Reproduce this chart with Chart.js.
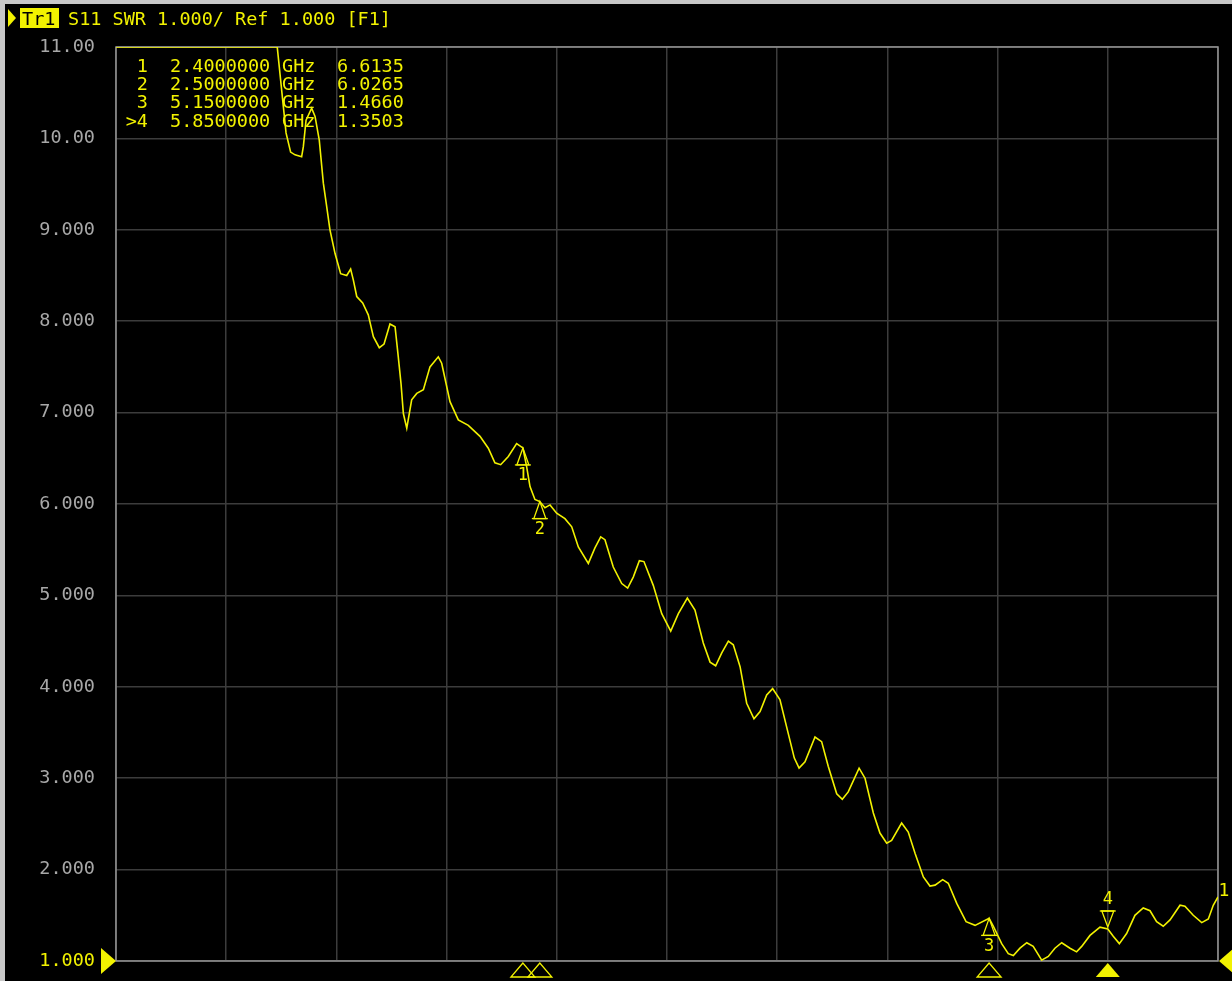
<!DOCTYPE html>
<html>
<head>
<meta charset="utf-8">
<title>S11 SWR</title>
<script src="https://cdn.jsdelivr.net/npm/chart.js@4/dist/chart.umd.min.js"></script>
<style>
  html, body { margin: 0; padding: 0; background: #000; }
  #swrChart { display: block; }
</style>
</head>
<body>
<canvas id="swrChart" width="1232" height="981"></canvas>
<script>
// =================== DADOS (lidos da tela do VNA) ===================
// frequência em GHz; os primeiros pontos estão fora da escala (> 11) e aparecem presos no topo
const freqGHz = [
  0, 0.3, 0.6, 0.951, 0.987, 1.003, 1.030, 1.056, 1.095, 1.105,
  1.121, 1.154, 1.174, 1.199, 1.223, 1.243, 1.262, 1.292, 1.325, 1.361,
  1.384, 1.400, 1.420, 1.455, 1.488, 1.518, 1.553, 1.581, 1.616, 1.646,
  1.665, 1.681, 1.695, 1.715, 1.744, 1.774, 1.813, 1.852, 1.901, 1.921,
  1.970, 2.019, 2.078, 2.147, 2.196, 2.235, 2.269, 2.314, 2.363, 2.400,
  2.422, 2.442, 2.471, 2.500, 2.530, 2.560, 2.599, 2.648, 2.688, 2.727,
  2.786, 2.825, 2.859, 2.884, 2.933, 2.983, 3.018, 3.051, 3.087, 3.114,
  3.169, 3.219, 3.272, 3.317, 3.370, 3.415, 3.464, 3.504, 3.537, 3.573,
  3.612, 3.641, 3.681, 3.720, 3.763, 3.799, 3.838, 3.873, 3.916, 3.965,
  4.001, 4.029, 4.064, 4.123, 4.162, 4.201, 4.251, 4.284, 4.319, 4.383,
  4.418, 4.467, 4.506, 4.546, 4.575, 4.634, 4.673, 4.713, 4.762, 4.801,
  4.831, 4.876, 4.909, 4.959, 5.014, 5.067, 5.150, 5.175, 5.224, 5.263,
  5.293, 5.332, 5.372, 5.410, 5.460, 5.499, 5.538, 5.578, 5.627, 5.666,
  5.696, 5.745, 5.804, 5.850, 5.882, 5.918, 5.961, 6.010, 6.059, 6.099,
  6.138, 6.177, 6.217, 6.276, 6.305, 6.354, 6.404, 6.443, 6.472, 6.500
];

const swr = [
  11, 11, 11, 11.00, 10.35, 10.06, 9.85, 9.82, 9.80, 9.91,
  10.20, 10.33, 10.24, 9.98, 9.51, 9.25, 9.00, 8.74, 8.52, 8.50,
  8.57, 8.45, 8.27, 8.20, 8.07, 7.83, 7.71, 7.75, 7.97, 7.94,
  7.61, 7.32, 6.99, 6.83, 7.14, 7.21, 7.25, 7.50, 7.61, 7.54,
  7.12, 6.92, 6.86, 6.74, 6.61, 6.45, 6.43, 6.52, 6.66, 6.6135,
  6.41, 6.19, 6.05, 6.0265, 5.96, 5.99, 5.90, 5.84, 5.75, 5.53,
  5.35, 5.52, 5.64, 5.61, 5.31, 5.13, 5.08, 5.20, 5.38, 5.37,
  5.11, 4.80, 4.61, 4.80, 4.97, 4.84, 4.48, 4.27, 4.23, 4.37,
  4.50, 4.46, 4.22, 3.82, 3.65, 3.73, 3.91, 3.98, 3.86, 3.49,
  3.22, 3.11, 3.18, 3.45, 3.40, 3.13, 2.83, 2.77, 2.85, 3.11,
  3.00, 2.62, 2.40, 2.29, 2.32, 2.51, 2.41, 2.18, 1.92, 1.82,
  1.83, 1.89, 1.85, 1.63, 1.43, 1.39, 1.466, 1.38, 1.19, 1.08,
  1.06, 1.14, 1.20, 1.16, 1.01, 1.05, 1.14, 1.20, 1.14, 1.10,
  1.16, 1.28, 1.37, 1.3503, 1.27, 1.19, 1.30, 1.50, 1.58, 1.55,
  1.43, 1.38, 1.45, 1.61, 1.60, 1.50, 1.42, 1.46, 1.61, 1.70
];

// marcadores
const markerNames = ['1', '2', '3', '4'];
const markerFreqGHz = [2.4, 2.5, 5.15, 5.85];
const markerSwr = [6.6135, 6.0265, 1.4660, 1.3503];
const activeMarker = 3; // ">4"

// escalas
const xStartGHz = 0;
const xStopGHz = 6.5;
const xDivisions = 10;
const yTicks = [11, 10, 9, 8, 7, 6, 5, 4, 3, 2, 1];
const yTickLabels = ['11.00', '10.00', '9.000', '8.000', '7.000', '6.000', '5.000', '4.000', '3.000', '2.000', '1.000'];
const refValue = 1.0;

const headerText = 'S11 SWR 1.000/ Ref 1.000 [F1]';

// =================== CORES / FONTES ===================
const AMARELO = '#f2f200';
const CINZA_TEXTO = '#a8a8a8';
const CINZA_GRADE = '#3c3c3c';
const CINZA_MOLDURA = '#959595';
const FONTE = '"DejaVu Sans Mono", monospace';

// =================== PLUGIN DA TELA DO VNA ===================
function triangulo(ctx, pts, preenchido) {
    ctx.beginPath();
    ctx.moveTo(pts[0][0], pts[0][1]);
    ctx.lineTo(pts[1][0], pts[1][1]);
    ctx.lineTo(pts[2][0], pts[2][1]);
    ctx.closePath();
    if (preenchido) ctx.fill(); else ctx.stroke();
}

const telaVna = {
    id: 'telaVna',
    beforeDraw(chart) {
        const ctx = chart.ctx;
        ctx.save();
        ctx.fillStyle = '#000';
        ctx.fillRect(0, 0, chart.width, chart.height);
        // moldura da janela
        ctx.fillStyle = '#c8c8c8';
        ctx.fillRect(0, 0, chart.width, 4);
        ctx.fillRect(0, 0, 5, chart.height);
        ctx.restore();
    },
    beforeDatasetsDraw(chart) {
        const { ctx, chartArea: a } = chart;
        ctx.save();
        ctx.strokeStyle = CINZA_MOLDURA;
        ctx.lineWidth = 1.5;
        ctx.strokeRect(a.left, a.top, a.right - a.left, a.bottom - a.top);
        ctx.restore();
    },
    afterDatasetsDraw(chart) {
        const { ctx, chartArea: a } = chart;
        const xs = chart.scales.x;
        const ys = chart.scales.y;
        ctx.save();
        ctx.strokeStyle = AMARELO;
        ctx.fillStyle = AMARELO;
        ctx.lineWidth = 1.3;
        ctx.textAlign = 'center';
        ctx.textBaseline = 'middle';
        ctx.font = '17px ' + FONTE;

        // marcadores sobre o traço
        markerFreqGHz.forEach((f, i) => {
            const px = xs.getPixelForValue(f);
            const py = ys.getPixelForValue(markerSwr[i]);
            if (i === activeMarker) {
                triangulo(ctx, [[px, py - 2], [px - 6, py - 18], [px + 6, py - 18]], false);
                ctx.beginPath();
                ctx.moveTo(px - 8, py - 18); ctx.lineTo(px + 8, py - 18);
                ctx.stroke();
                ctx.fillText(markerNames[i], px, py - 29);
            } else {
                triangulo(ctx, [[px, py], [px - 6, py + 17], [px + 6, py + 17]], false);
                ctx.beginPath();
                ctx.moveTo(px - 8, py + 17); ctx.lineTo(px + 8, py + 17);
                ctx.stroke();
                ctx.fillText(markerNames[i], px, py + 28);
            }
            // triângulo no eixo de frequência
            const yb = a.bottom + 2;
            triangulo(ctx, [[px, yb], [px - 12, yb + 14], [px + 12, yb + 14]], i === activeMarker);
        });

        // marcador de referência (esquerda) e fim de escala (direita)
        const yRef = ys.getPixelForValue(refValue);
        triangulo(ctx, [[a.left, yRef], [a.left - 15, yRef - 13], [a.left - 15, yRef + 13]], true);
        triangulo(ctx, [[a.right + 1, yRef], [a.right + 16, yRef - 13], [a.right + 16, yRef + 13]], true);

        // número do traço no fim da curva
        const ult = freqGHz.length - 1;
        ctx.font = '18px ' + FONTE;
        ctx.fillText('1', xs.getPixelForValue(freqGHz[ult]) + 6, ys.getPixelForValue(Math.min(swr[ult], 11)) - 6);

        // tabela de marcadores
        ctx.font = '18.5px ' + FONTE;
        ctx.textBaseline = 'alphabetic';
        markerFreqGHz.forEach((f, i) => {
            const yl = 72 + i * 18.2;
            ctx.textAlign = 'right';
            ctx.fillText((i === activeMarker ? '>' : '') + markerNames[i], 148, yl);
            ctx.textAlign = 'left';
            ctx.fillText(f.toFixed(7), 170, yl);
            ctx.fillText('GHz', 282, yl);
            ctx.fillText(markerSwr[i].toFixed(4), 337, yl);
        });

        // cabeçalho
        triangulo(ctx, [[8, 9], [16, 18], [8, 27]], true);
        ctx.fillRect(20, 8, 39, 20);
        ctx.fillStyle = '#000';
        ctx.fillText('Tr1', 22, 25);
        ctx.fillStyle = AMARELO;
        ctx.fillText(headerText, 68, 25);
        ctx.restore();
    }
};

// =================== GRÁFICO ===================
const pontos = freqGHz.map((f, i) => ({ x: f, y: Math.min(swr[i], yTicks[0]) }));

const ctx = document.getElementById('swrChart');
const grafico = new Chart(ctx, {
    type: 'line',
    data: {
        datasets: [{
            label: 'S11 SWR',
            data: pontos,
            borderColor: AMARELO,
            borderWidth: 1.6,
            pointRadius: 0,
            tension: 0,
            fill: false
        }]
    },
    options: {
        responsive: false,
        animation: false,
        devicePixelRatio: 1,
        layout: { padding: { top: 47, right: 14, bottom: 0, left: 0 } },
        plugins: {
            legend: { display: false },
            tooltip: { enabled: false }
        },
        scales: {
            x: {
                type: 'linear',
                min: xStartGHz,
                max: xStopGHz,
                afterBuildTicks: (s) => {
                    const passo = (xStopGHz - xStartGHz) / xDivisions;
                    s.ticks = Array.from({ length: xDivisions + 1 }, (_, i) => ({ value: xStartGHz + i * passo }));
                },
                afterFit: (s) => { s.height = 20; },
                ticks: { display: false },
                grid: { color: CINZA_GRADE, lineWidth: 1.5, drawTicks: false },
                border: { display: false }
            },
            y: {
                min: yTicks[yTicks.length - 1],
                max: yTicks[0],
                afterBuildTicks: (s) => { s.ticks = yTicks.map(v => ({ value: v })); },
                afterFit: (s) => {
                    s.width = 116;
                    // sem folga extra para os rótulos das pontas
                    s.paddingTop = 0;
                    s.paddingBottom = 0;
                },
                ticks: {
                    padding: 21,
                    color: (c) => (c.tick && c.tick.value === refValue ? AMARELO : CINZA_TEXTO),
                    font: { family: FONTE, size: 18.5 },
                    callback: (v) => yTickLabels[yTicks.indexOf(v)]
                },
                grid: { color: CINZA_GRADE, lineWidth: 1.5, drawTicks: false },
                border: { display: false }
            }
        }
    },
    plugins: [telaVna]
});
console.log('grafico pronto', grafico.chartArea);
</script>
</body>
</html>
